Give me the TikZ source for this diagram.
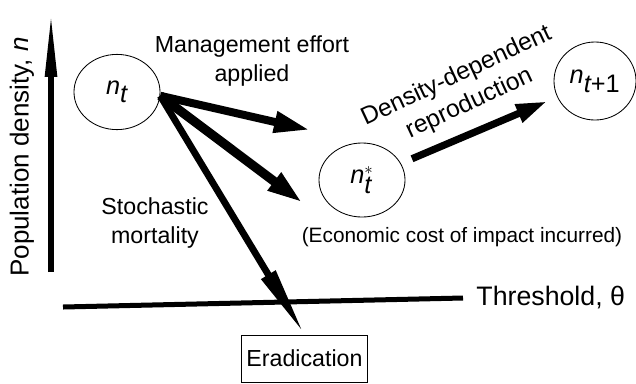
\documentclass[tikz,border=0pt]{standalone}
\usepackage{fontspec}
\setmainfont{Liberation Sans}
\usetikzlibrary{positioning,arrows.meta,shapes.geometric}
\begin{document}
\begin{tikzpicture}[x=0.025cm, y=-0.025cm,
  state/.style={ellipse, draw=black, line width=0.6pt, inner sep=0pt,
                minimum width=2.15cm, minimum height=1.88cm,
                font=\fontsize{18}{20}\selectfont},
  lbl/.style={font=\fontsize{16.5}{20.5}\selectfont, align=center, inner sep=0pt},
  bigarr/.style={-{Triangle[length=0.9cm, width=0.5cm]}, line width=0.2cm}]
  \useasboundingbox (0,0) rectangle (636,383);
  \node[state] (NT) at (117,92) {$\textit{n}_{\textit{t}}$};
  \node[state, minimum height=1.85cm] (NS) at (362,180) {$\textit{n}_{\textit{t}}^{*}$};
  \node[state, minimum width=2.05cm, minimum height=1.95cm] (NN) at (595,81) {$\textit{n}_{\textit{t}\textrm{+1}}$};
  \node[draw, line width=0.6pt, minimum width=2.425cm, minimum height=1.175cm,
        font=\fontsize{16.5}{20}\selectfont] (ER) at (304.5,358.5) {Eradication};
  \coordinate (YB) at (51,272);
  \coordinate (YT) at (51,8);
  \coordinate (TL) at (63,307);
  \coordinate (TR) at (463,298);
  \coordinate (M1) at (310,130);
  \coordinate (M2) at (303,203);
  \draw[line width=0.15cm, -{Triangle[length=1.72cm, width=0.27cm]}] (YB) -- (YT);
  \draw[bigarr] (NT.-5) -- (M1);
  \draw[bigarr, line width=0.23cm] (NT.-5) -- (M2);
  \draw[bigarr, line width=0.17cm, -{Triangle[length=1.75cm, width=0.38cm]}] (NT.-5) -- (ER.north);
  \draw[bigarr, line width=0.18cm, -{Triangle[length=0.78cm, width=0.45cm]},
        shorten <=0.3cm, shorten >=0.27cm] (NS) -- (NN);
  \draw[line width=0.125cm] (TL) -- (TR);
  \node[lbl, rotate=90, font=\fontsize{18.5}{22}\selectfont] (PD) at (22,157) {Population density, \textit{n}};
  \node[lbl] (MA) at (252,61) {Management effort\\applied};
  \node[lbl] (SM) at (155,223) {Stochastic\\mortality};
  \node[lbl, rotate=25, font=\fontsize{17.5}{21.5}\selectfont] (DD) at (463,90) {Density-dependent\\reproduction};
  \node[lbl, font=\fontsize{14.8}{17}\selectfont] (EC) at (462,237) {(Economic cost of impact incurred)};
  \node[lbl, right=0.33cm of TR, font=\fontsize{19}{22}\selectfont] (TH) {Threshold, θ};
\end{tikzpicture}
\end{document}
